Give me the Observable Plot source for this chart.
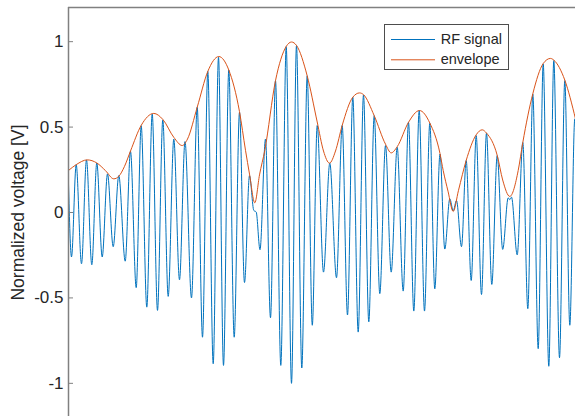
<!DOCTYPE html>
<html><head><meta charset="utf-8">
<script src="https://cdn.jsdelivr.net/npm/d3@7"></script>
<script src="https://cdn.jsdelivr.net/npm/@observablehq/plot@0.6"></script>
<style>
body{margin:0;background:#fff;}
#wrap{position:relative;width:575px;height:416px;overflow:hidden;font-family:"Liberation Sans",Arial,Helvetica,sans-serif;}
#legend{position:absolute;left:384px;top:24px;width:123px;height:44px;border:1px solid #4d4d4d;background:#fff;}
#legend svg{display:block;}
</style></head><body><div id="wrap"></div>
<script>
// RF signal extrema (time in arbitrary sample units, normalized voltage)
const rfT = [0, 3, 7.7, 13, 18, 23.3, 28.3, 33.7, 39, 44.7,
  50.3, 56.7, 62, 67.7, 72.7, 78.3, 83.7, 89, 94.3, 99.7,
  105.3, 111, 116.5, 123, 128.7, 134, 139.3, 144.7, 150, 155,
  160.3, 165.7, 171, 176, 181, 185.3, 187.7, 191.5, 197, 202,
  207, 212.3, 217.7, 223, 228, 233.3, 238.7, 243.8, 248.7, 255,
  261.3, 268, 273.7, 279, 284.3, 289.7, 295, 300.3, 305.7, 311.3,
  317, 322.7, 328.7, 334.7, 340, 345.3, 350.7, 356, 361.3, 366.3,
  371.5, 376.3, 381.3, 384.7, 388, 393, 397.7, 402.7, 407.7, 413,
  418, 423.3, 428.7, 434.2, 439.7, 441.3, 443, 448.7, 454.3, 459.3,
  464.3, 469.7, 474.7, 480.3, 485.3, 491, 496.3, 501.3, 506.3, 511.5];
const rfV = [0.17, -0.26, 0.28, -0.30, 0.308, -0.306, 0.29, -0.26, 0.226, -0.20,
  0.216, -0.285, 0.358, -0.44, 0.508, -0.554, 0.577, -0.573, 0.542, -0.491,
  0.43, -0.394, 0.415, -0.50, 0.616, -0.73, 0.826, -0.885, 0.908, -0.895,
  0.834, -0.73, 0.587, -0.41, 0.215, 0.012, 0.003, -0.218, 0.43, -0.616,
  0.772, -0.895, 0.971, -1.0, 0.977, -0.91, 0.80, -0.66, 0.509, -0.349,
  0.289, -0.382, 0.509, -0.60, 0.675, -0.70, 0.688, -0.64, 0.567, -0.475,
  0.392, -0.349, 0.382, -0.46, 0.528, -0.577, 0.597, -0.577, 0.522, -0.447,
  0.342, -0.214, 0.08, 0.01, 0.07, -0.2, 0.304, -0.398, 0.45, -0.48,
  0.464, -0.421, 0.333, -0.216, 0.086, 0.075, 0.09, -0.248, 0.41, -0.563,
  0.694, -0.797, 0.87, -0.90, 0.889, -0.85, 0.772, -0.66, 0.548, -0.40];

// Envelope samples
const envT = [0, 7.7, 18.7, 28.3, 37, 45.3, 50.3, 56, 62, 72.7,
  85.3, 94.3, 105.3, 113.7, 119, 128.7, 139.3, 150.3, 160.3, 171,
  177, 181, 186.3, 191, 196.3, 207, 217.7, 223, 228, 238.7,
  248.7, 255, 261, 267, 273.7, 284.3, 291, 295, 305.7, 317,
  322.7, 328.7, 340, 351, 361.3, 371.5, 374.7, 379.5, 384.7, 390,
  397.7, 407.7, 413.7, 418, 428.7, 434.2, 441.3, 449.7, 454.3, 464.3,
  474.7, 482, 485.3, 496.3, 507];
const envV = [0.246, 0.28, 0.308, 0.29, 0.245, 0.197, 0.212, 0.27, 0.36, 0.51,
  0.58, 0.545, 0.44, 0.392, 0.43, 0.616, 0.826, 0.913, 0.834, 0.59,
  0.364, 0.225, 0.057, 0.22, 0.364, 0.772, 0.972, 0.998, 0.978, 0.80,
  0.53, 0.36, 0.289, 0.36, 0.51, 0.675, 0.70, 0.69, 0.567, 0.40,
  0.349, 0.385, 0.528, 0.597, 0.524, 0.345, 0.246, 0.125, 0.006, 0.13,
  0.305, 0.455, 0.484, 0.465, 0.335, 0.19, 0.094, 0.246, 0.41, 0.695,
  0.872, 0.902, 0.892, 0.775, 0.548];

const yTicks = [-1, -0.5, 0, 0.5, 1];
const seriesNames = ["RF signal", "envelope"];
const seriesColors = ["#0072BD", "#D95319"];
const yLabel = "Normalized voltage [V]";

const rf = rfT.map((t, i) => ({t, v: rfV[i]}));
const env = envT.map((t, i) => ({t, v: envV[i]}));
const axisColor = "#808080";
const textColor = "#262626";
const font = '"Liberation Sans", Arial, Helvetica, sans-serif';

const chart = Plot.plot({
  width: 575, height: 416,
  marginLeft: 68, marginTop: 7, marginRight: 0, marginBottom: -1,
  style: {fontFamily: font, background: "#fff", overflow: "visible"},
  x: {domain: [0, 507], axis: null},
  y: {domain: [-1.2, 1.2], axis: null},
  marks: [
    Plot.line(rf, {x: "t", y: "v", stroke: seriesColors[0], strokeWidth: 1, curve: "monotone-x", clip: true}),
    Plot.line(env, {x: "t", y: "v", stroke: seriesColors[1], strokeWidth: 1, curve: "monotone-x", clip: true}),
    Plot.ruleY([1.2], {stroke: axisColor, strokeWidth: 1.5}),
    Plot.ruleX([0], {stroke: axisColor, strokeWidth: 1.5}),
    Plot.tickY(yTicks, {y: d => d, stroke: axisColor, strokeWidth: 1, insetRight: 502}),
    Plot.axisY(yTicks, {tickSize: 0, tickPadding: 5, tickFormat: d => String(d), fontSize: 17, color: textColor, label: null}),
    Plot.text([yLabel], {frameAnchor: "left", rotate: -90, dx: -50, fontSize: 17.5, fill: textColor, textAnchor: "middle", lineAnchor: "middle"})
  ]
});

const wrap = document.getElementById("wrap");
wrap.appendChild(chart);

// Legend
const legend = document.createElement("div");
legend.id = "legend";
const ns = "http://www.w3.org/2000/svg";
const lsvg = document.createElementNS(ns, "svg");
lsvg.setAttribute("width", 123); lsvg.setAttribute("height", 44);
seriesNames.forEach((name, i) => {
  const y = 14 + i * 20.3;
  const ln = document.createElementNS(ns, "line");
  ln.setAttribute("x1", 6); ln.setAttribute("x2", 50);
  ln.setAttribute("y1", y + 0.5); ln.setAttribute("y2", y + 0.5);
  ln.setAttribute("stroke", seriesColors[i]); ln.setAttribute("stroke-width", 1);
  lsvg.appendChild(ln);
  const tx = document.createElementNS(ns, "text");
  tx.setAttribute("x", 55.7); tx.setAttribute("y", y + 5);
  tx.setAttribute("font-size", 14.5);
  tx.setAttribute("font-family", font);
  tx.setAttribute("fill", textColor);
  tx.textContent = name;
  lsvg.appendChild(tx);
});
legend.appendChild(lsvg);
wrap.appendChild(legend);
</script>
</body></html>
